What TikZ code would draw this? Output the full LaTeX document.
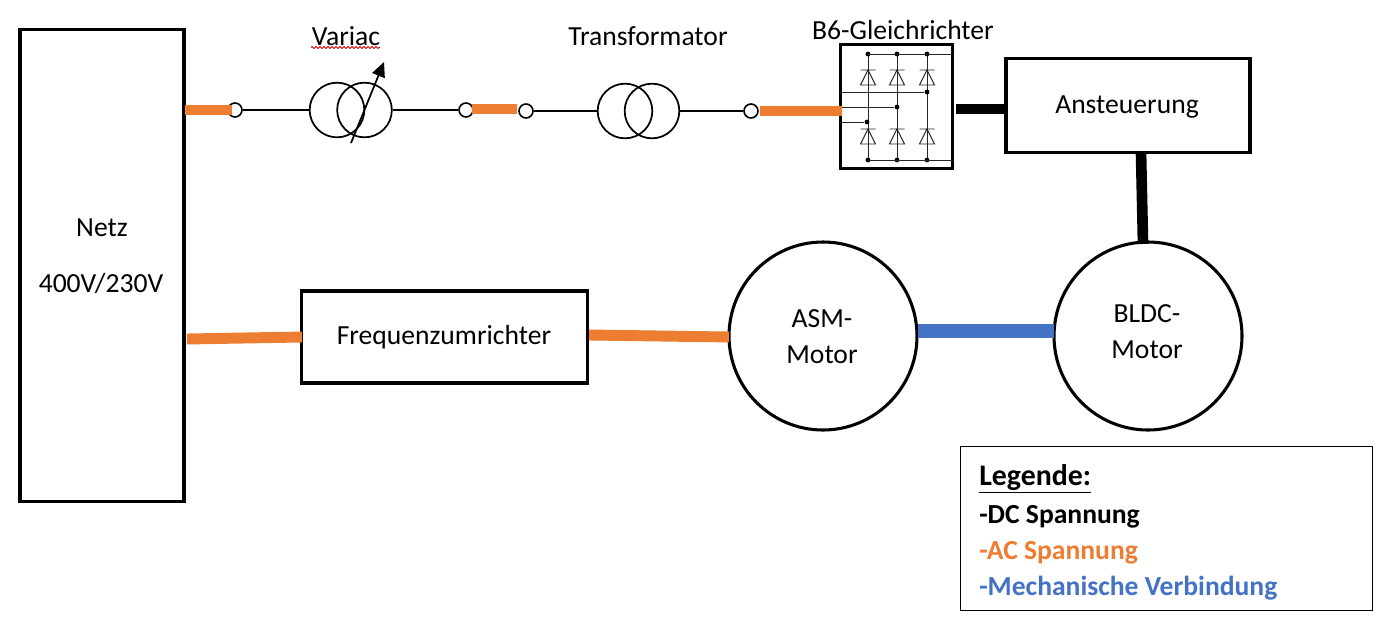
\documentclass[tikz,border=0pt]{standalone}
\usepackage{fontspec}
\setmainfont{Carlito}
\usetikzlibrary{arrows.meta,decorations.pathmorphing}
\definecolor{acor}{HTML}{ED7D31}
\definecolor{mechb}{HTML}{4472C4}
\tikzset{
  x=0.75pt,y=-0.75pt,
  blockbox/.style={draw=black,line width=2.3pt,fill=white,inner sep=0pt,align=center,font=\fontsize{20.7}{27}\selectfont},
  motor/.style={blockbox,circle,minimum size=141pt},
  term/.style={draw=black,line width=1.2pt,fill=white,circle,inner sep=0pt,minimum size=10.5pt},
  coil/.style={draw=black,line width=1.3pt,circle,inner sep=0pt,minimum size=41pt},
  wire/.style={draw=black,line width=1.2pt},
  thin wire/.style={draw=black!85,line width=.65pt},
  lab/.style={inner sep=0pt,align=center,font=\fontsize{20.7}{27}\selectfont},
  acline/.style={draw=acor,line width=8.2pt},
  dcline/.style={draw=black,line width=8pt},
  mechline/.style={draw=mechb,line width=10.5pt},
  jdot/.style={circle,fill=black,inner sep=0pt,minimum size=3.6pt},
  leg/.style={inner sep=0pt,anchor=west,font=\fontsize{20.7}{25}\selectfont\bfseries},
  diode/.pic={
    \draw[black!85,line width=.7pt] (-7.5,0)--(7.5,0) (0,0)--(-7.5,15)--(7.5,15)--cycle;
  }
}
\begin{document}
\begin{tikzpicture}
\useasboundingbox (0,0) rectangle (1392,628);
% Netz
\node[blockbox,minimum width=123pt,minimum height=354pt] (netz) at (102,265.5) {};
\node[lab] (netzA) at (102,228) {Netz};
\node[lab] (netzB) at (101,284) {400V/230V};
% Variac
\node[term] (t1) at (235,110) {};
\node[coil] (v1) at (337,110) {};
\node[coil] (v2) at (364.5,110) {};
\node[term] (t2) at (466,110) {};
\draw[wire] (t1) -- (v1);
\draw[wire] (v2) -- (t2);
\coordinate (va) at (351,143);
\coordinate (vb) at (384,62);
\draw[line width=1.3pt,-{Triangle[length=11pt,width=10pt]}] (va) -- (vb);
\node[lab] (variac) at (346,36) {Variac};
\coordinate (sa) at (311,47.5);
\coordinate (sb) at (380,47.5);
\draw[red!85!black,line width=.6pt,decorate,decoration={zigzag,segment length=3pt,amplitude=.8pt}] (sa) -- (sb);
% Transformator
\node[term] (t3) at (526,111) {};
\node[coil] (w1) at (625,111) {};
\node[coil] (w2) at (652,111) {};
\node[term] (t4) at (751,111) {};
\draw[wire] (t3) -- (w1);
\draw[wire] (w2) -- (t4);
\node[lab] (trafo) at (648,36) {Transformator};
% B6
\node[lab] (b6lab) at (903,30) {B6-Gleichrichter};
\node[blockbox,minimum width=84.5pt,minimum height=93.5pt] (b6) at (896.5,106.5) {};
\foreach \xx/\n in {868/a,897/b,927/c}{
  \coordinate (top\n) at (\xx,54);
  \coordinate (bot\n) at (\xx,160);
  \draw[thin wire] (top\n) -- (bot\n);
  \path (\xx,70) pic {diode};
  \path (\xx,129) pic {diode};
  \node[jdot] at (top\n) {};
  \node[jdot] at (bot\n) {};
}
\coordinate (rt) at (953,54);
\coordinate (rb) at (953,160);
\draw[thin wire] (topa) -- (rt);
\draw[thin wire] (bota) -- (rb);
\coordinate (l1) at (840,92);
\coordinate (l2) at (840,107);
\coordinate (l3) at (840,122);
\node[jdot] (j1) at (927,92) {};
\node[jdot] (j2) at (897,107) {};
\node[jdot] (j3) at (867,122) {};
\draw[thin wire] (l1) -- (j1);
\draw[thin wire] (l2) -- (j2);
\draw[thin wire] (l3) -- (j3);
% Blocks
\node[blockbox,minimum width=183pt,minimum height=71pt] (anst) at (1128,105.5) {};
\node[lab] (anstl) at (1127,107) {Ansteuerung};
\node[blockbox,minimum width=215pt,minimum height=69pt] (fu) at (444.5,337) {};
\node[lab] (ful) at (444,337) {Frequenzumrichter};
\node[motor] (asm) at (823,336) {};
\node[lab] (asml) at (822,337) {ASM-\\Motor};
\node[motor] (bldc) at (1148,336) {};
\node[lab] (bldcl) at (1147,332) {BLDC-\\Motor};
% AC lines
\coordinate (a1s) at (185,110); \coordinate (a1e) at (232,110);
\draw[acline] (a1s) -- (a1e);
\coordinate (a2s) at (472,109); \coordinate (a2e) at (517,109);
\draw[acline] (a2s) -- (a2e);
\coordinate (a3s) at (760,111); \coordinate (a3e) at (842,111);
\draw[acline] (a3s) -- (a3e);
\coordinate (a4s) at (187,339); \coordinate (a4e) at (302,337);
\draw[acline] (a4s) -- (a4e);
\coordinate (a5s) at (589,335); \coordinate (a5e) at (729,337);
\draw[acline] (a5s) -- (a5e);
% DC lines
\coordinate (d1s) at (956,109); \coordinate (d1e) at (1006,109);
\draw[dcline] (d1s) -- (d1e);
\coordinate (d2s) at (1141,152); \coordinate (d2e) at (1143,244);
\draw[dcline] (d2s) -- (d2e);
% Mech
\coordinate (m1s) at (918,331); \coordinate (m1e) at (1054,331);
\draw[mechline] (m1s) -- (m1e);
% Legend
\node[draw=black,line width=.75pt,fill=white,minimum width=309.5pt,minimum height=123pt,inner sep=0pt] (legend) at (1166.5,528) {};
\node[leg,font=\fontsize{22.4}{27}\selectfont\bfseries] (l0) at (979,479) {\underline{Legende:}};
\node[leg] (la) at (979,517) {-DC Spannung};
\node[leg,text=acor] (lb) at (979,553) {-AC Spannung};
\node[leg,text=mechb] (lc) at (979,588) {-Mechanische Verbindung};
\end{tikzpicture}
\end{document}
